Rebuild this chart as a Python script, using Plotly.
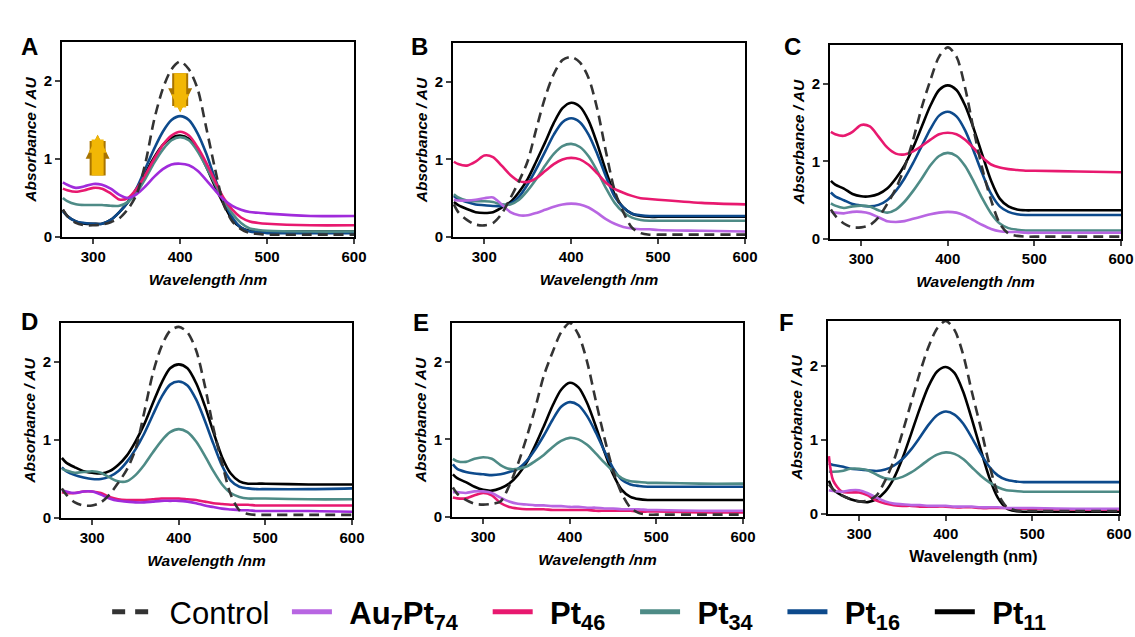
import plotly.graph_objects as go

WL = [265, 270, 280, 290, 300, 310, 320, 330, 340, 350, 360, 370, 380, 390,
      400, 410, 420, 430, 440, 450, 460, 470, 480, 490, 500, 550, 600]

A_CONTROL = [0.35, 0.27, 0.18, 0.15, 0.15, 0.16, 0.19, 0.24, 0.36, 0.55, 0.95, 1.50, 1.90, 2.15, 2.25, 2.15, 1.90, 1.40, 0.88, 0.42, 0.20, 0.10, 0.05, 0.04, 0.03, 0.03, 0.03]
A_AU7PT74 = [0.70, 0.67, 0.63, 0.65, 0.68, 0.67, 0.62, 0.54, 0.50, 0.55, 0.65, 0.77, 0.87, 0.93, 0.94, 0.92, 0.85, 0.73, 0.60, 0.48, 0.40, 0.35, 0.32, 0.31, 0.30, 0.27, 0.27]
A_PT46 = [0.62, 0.60, 0.58, 0.60, 0.63, 0.62, 0.56, 0.48, 0.50, 0.62, 0.80, 1.00, 1.18, 1.30, 1.35, 1.30, 1.15, 0.95, 0.72, 0.50, 0.35, 0.25, 0.20, 0.18, 0.17, 0.15, 0.15]
A_PT34 = [0.50, 0.46, 0.42, 0.41, 0.41, 0.41, 0.40, 0.40, 0.45, 0.57, 0.75, 0.95, 1.12, 1.24, 1.28, 1.24, 1.10, 0.90, 0.68, 0.47, 0.30, 0.18, 0.11, 0.09, 0.08, 0.07, 0.07]
A_PT16 = [0.33, 0.27, 0.20, 0.18, 0.17, 0.17, 0.22, 0.32, 0.45, 0.63, 0.88, 1.13, 1.35, 1.50, 1.55, 1.50, 1.33, 1.07, 0.75, 0.47, 0.25, 0.12, 0.07, 0.06, 0.05, 0.05, 0.05]
A_PT11 = [0.35, 0.27, 0.20, 0.17, 0.17, 0.17, 0.22, 0.32, 0.45, 0.62, 0.82, 1.02, 1.18, 1.27, 1.30, 1.26, 1.12, 0.90, 0.65, 0.42, 0.22, 0.12, 0.08, 0.07, 0.07, 0.07, 0.07]

B_CONTROL = [0.42, 0.32, 0.22, 0.16, 0.15, 0.18, 0.30, 0.50, 0.72, 0.98, 1.40, 1.80, 2.10, 2.28, 2.32, 2.25, 2.05, 1.65, 1.10, 0.60, 0.32, 0.12, 0.05, 0.03, 0.03, 0.03, 0.03]
B_AU7PT74 = [0.48, 0.47, 0.47, 0.48, 0.50, 0.51, 0.42, 0.32, 0.28, 0.28, 0.31, 0.35, 0.39, 0.42, 0.43, 0.42, 0.38, 0.31, 0.23, 0.17, 0.13, 0.11, 0.10, 0.10, 0.09, 0.08, 0.07]
B_PT46 = [0.97, 0.94, 0.92, 0.97, 1.05, 1.03, 0.92, 0.80, 0.72, 0.71, 0.76, 0.85, 0.94, 1.00, 1.02, 1.00, 0.93, 0.82, 0.70, 0.62, 0.57, 0.53, 0.50, 0.49, 0.48, 0.44, 0.42]
B_PT34 = [0.55, 0.51, 0.47, 0.46, 0.46, 0.45, 0.42, 0.42, 0.48, 0.60, 0.75, 0.92, 1.07, 1.17, 1.20, 1.16, 1.04, 0.85, 0.63, 0.44, 0.32, 0.25, 0.22, 0.21, 0.21, 0.21, 0.21]
B_PT16 = [0.53, 0.49, 0.45, 0.42, 0.41, 0.40, 0.40, 0.43, 0.52, 0.68, 0.88, 1.10, 1.32, 1.48, 1.53, 1.48, 1.32, 1.07, 0.78, 0.52, 0.38, 0.30, 0.28, 0.27, 0.27, 0.27, 0.27]
B_PT11 = [0.45, 0.41, 0.36, 0.32, 0.31, 0.32, 0.38, 0.45, 0.58, 0.75, 0.98, 1.22, 1.47, 1.66, 1.73, 1.68, 1.50, 1.20, 0.85, 0.55, 0.38, 0.30, 0.27, 0.26, 0.26, 0.26, 0.26]

C_CONTROL = [0.38, 0.30, 0.20, 0.15, 0.15, 0.18, 0.28, 0.45, 0.65, 0.92, 1.28, 1.70, 2.05, 2.35, 2.47, 2.35, 1.95, 1.40, 0.90, 0.50, 0.20, 0.07, 0.04, 0.03, 0.03, 0.03, 0.03]
C_AU7PT74 = [0.35, 0.34, 0.33, 0.35, 0.35, 0.33, 0.28, 0.23, 0.22, 0.23, 0.26, 0.29, 0.32, 0.34, 0.35, 0.34, 0.30, 0.24, 0.18, 0.13, 0.10, 0.09, 0.09, 0.08, 0.08, 0.08, 0.08]
C_PT46 = [1.38, 1.35, 1.33, 1.38, 1.47, 1.45, 1.32, 1.18, 1.10, 1.09, 1.13, 1.20, 1.28, 1.35, 1.37, 1.35, 1.28, 1.17, 1.05, 0.96, 0.92, 0.90, 0.89, 0.88, 0.88, 0.87, 0.86]
C_PT34 = [0.46, 0.43, 0.40, 0.42, 0.43, 0.42, 0.37, 0.34, 0.38, 0.48, 0.62, 0.78, 0.95, 1.07, 1.11, 1.07, 0.94, 0.74, 0.52, 0.33, 0.20, 0.14, 0.12, 0.11, 0.11, 0.11, 0.11]
C_PT16 = [0.60, 0.55, 0.50, 0.45, 0.43, 0.42, 0.44, 0.50, 0.62, 0.78, 0.98, 1.20, 1.42, 1.59, 1.64, 1.58, 1.40, 1.13, 0.84, 0.58, 0.42, 0.35, 0.32, 0.31, 0.31, 0.31, 0.31]
C_PT11 = [0.75, 0.70, 0.65, 0.58, 0.55, 0.55, 0.58, 0.65, 0.78, 0.95, 1.18, 1.45, 1.72, 1.92, 1.98, 1.92, 1.72, 1.42, 1.08, 0.75, 0.52, 0.42, 0.38, 0.37, 0.37, 0.37, 0.37]

D_CONTROL = [0.38, 0.30, 0.20, 0.16, 0.16, 0.20, 0.30, 0.45, 0.62, 0.88, 1.35, 1.85, 2.20, 2.40, 2.45, 2.38, 2.15, 1.70, 1.15, 0.70, 0.30, 0.10, 0.05, 0.04, 0.04, 0.04, 0.04]
D_AU7PT74 = [0.36, 0.34, 0.32, 0.34, 0.34, 0.30, 0.25, 0.22, 0.21, 0.20, 0.20, 0.21, 0.22, 0.22, 0.22, 0.21, 0.19, 0.16, 0.14, 0.12, 0.11, 0.10, 0.10, 0.09, 0.09, 0.09, 0.08]
D_PT46 = [0.33, 0.32, 0.32, 0.34, 0.34, 0.32, 0.27, 0.24, 0.23, 0.23, 0.23, 0.24, 0.25, 0.25, 0.25, 0.24, 0.23, 0.21, 0.19, 0.18, 0.17, 0.17, 0.17, 0.16, 0.16, 0.16, 0.16]
D_PT34 = [0.63, 0.61, 0.58, 0.59, 0.60, 0.58, 0.52, 0.47, 0.47, 0.55, 0.68, 0.84, 0.99, 1.10, 1.14, 1.10, 0.98, 0.80, 0.60, 0.43, 0.32, 0.27, 0.25, 0.25, 0.25, 0.24, 0.24]
D_PT16 = [0.65, 0.60, 0.55, 0.52, 0.50, 0.50, 0.53, 0.60, 0.72, 0.88, 1.08, 1.32, 1.55, 1.71, 1.75, 1.70, 1.52, 1.25, 0.95, 0.67, 0.48, 0.40, 0.38, 0.37, 0.37, 0.37, 0.38]
D_PT11 = [0.77, 0.71, 0.65, 0.60, 0.58, 0.57, 0.60, 0.68, 0.80, 0.98, 1.20, 1.47, 1.73, 1.92, 1.97, 1.92, 1.73, 1.44, 1.10, 0.78, 0.57, 0.47, 0.44, 0.44, 0.44, 0.43, 0.43]

E_CONTROL = [0.38, 0.30, 0.22, 0.17, 0.16, 0.17, 0.20, 0.40, 0.68, 1.02, 1.40, 1.82, 2.12, 2.38, 2.50, 2.35, 2.00, 1.50, 1.02, 0.60, 0.30, 0.12, 0.05, 0.03, 0.03, 0.03, 0.03]
E_AU7PT74 = [0.32, 0.32, 0.31, 0.33, 0.33, 0.31, 0.25, 0.20, 0.17, 0.16, 0.15, 0.15, 0.14, 0.14, 0.13, 0.13, 0.12, 0.12, 0.11, 0.11, 0.10, 0.10, 0.10, 0.09, 0.09, 0.08, 0.08]
E_PT46 = [0.25, 0.24, 0.24, 0.28, 0.31, 0.28, 0.18, 0.13, 0.11, 0.10, 0.10, 0.10, 0.09, 0.09, 0.09, 0.09, 0.09, 0.08, 0.08, 0.08, 0.08, 0.08, 0.07, 0.07, 0.07, 0.06, 0.06]
E_PT34 = [0.75, 0.72, 0.71, 0.75, 0.77, 0.75, 0.67, 0.62, 0.62, 0.65, 0.72, 0.80, 0.90, 0.98, 1.02, 1.00, 0.93, 0.82, 0.70, 0.59, 0.50, 0.46, 0.45, 0.44, 0.44, 0.43, 0.43]
E_PT16 = [0.68, 0.62, 0.58, 0.56, 0.55, 0.54, 0.55, 0.58, 0.62, 0.72, 0.87, 1.05, 1.25, 1.42, 1.48, 1.44, 1.30, 1.09, 0.85, 0.63, 0.48, 0.42, 0.40, 0.39, 0.39, 0.39, 0.39]
E_PT11 = [0.55, 0.50, 0.45, 0.39, 0.35, 0.34, 0.37, 0.43, 0.54, 0.70, 0.92, 1.17, 1.43, 1.64, 1.73, 1.67, 1.47, 1.17, 0.84, 0.55, 0.35, 0.26, 0.23, 0.22, 0.22, 0.22, 0.22]

F_CONTROL = [0.40, 0.33, 0.25, 0.20, 0.17, 0.18, 0.25, 0.45, 0.72, 1.10, 1.50, 1.90, 2.25, 2.50, 2.60, 2.48, 2.15, 1.65, 1.18, 0.68, 0.28, 0.10, 0.05, 0.04, 0.04, 0.04, 0.04]
F_AU7PT74 = [0.32, 0.31, 0.30, 0.32, 0.32, 0.28, 0.22, 0.17, 0.14, 0.13, 0.12, 0.12, 0.11, 0.11, 0.11, 0.10, 0.10, 0.10, 0.09, 0.09, 0.09, 0.08, 0.08, 0.08, 0.08, 0.07, 0.07]
F_PT46 = [0.78, 0.45, 0.30, 0.29, 0.29, 0.25, 0.18, 0.14, 0.12, 0.11, 0.11, 0.10, 0.10, 0.10, 0.10, 0.09, 0.09, 0.09, 0.08, 0.08, 0.08, 0.08, 0.07, 0.07, 0.07, 0.06, 0.06]
F_PT34 = [0.57, 0.57, 0.58, 0.61, 0.61, 0.59, 0.53, 0.48, 0.47, 0.50, 0.56, 0.64, 0.73, 0.80, 0.83, 0.81, 0.74, 0.63, 0.52, 0.43, 0.36, 0.32, 0.31, 0.30, 0.30, 0.30, 0.30]
F_PT16 = [0.68, 0.66, 0.64, 0.61, 0.60, 0.59, 0.58, 0.60, 0.65, 0.74, 0.87, 1.03, 1.20, 1.33, 1.38, 1.34, 1.22, 1.03, 0.82, 0.64, 0.52, 0.46, 0.44, 0.43, 0.43, 0.43, 0.43]
F_PT11 = [0.45, 0.33, 0.25, 0.20, 0.17, 0.16, 0.20, 0.30, 0.48, 0.75, 1.08, 1.42, 1.72, 1.92, 1.98, 1.90, 1.65, 1.28, 0.88, 0.50, 0.22, 0.08, 0.04, 0.03, 0.03, 0.03, 0.03]

SERIES_NAMES = ["Control", "<b>Au<sub>7</sub>Pt<sub>74</sub></b>", "<b>Pt<sub>46</sub></b>",
                "<b>Pt<sub>34</sub></b>", "<b>Pt<sub>16</sub></b>", "<b>Pt<sub>11</sub></b>"]
PANEL_LABELS = ["A", "B", "C", "D", "E", "F"]
X_TICKS = [300, 400, 500, 600]
Y_TICKS = [0, 1, 2]

PANELS = {
    "A": [A_CONTROL, A_AU7PT74, A_PT46, A_PT34, A_PT16, A_PT11],
    "B": [B_CONTROL, B_AU7PT74, B_PT46, B_PT34, B_PT16, B_PT11],
    "C": [C_CONTROL, C_AU7PT74, C_PT46, C_PT34, C_PT16, C_PT11],
    "D": [D_CONTROL, D_AU7PT74, D_PT46, D_PT34, D_PT16, D_PT11],
    "E": [E_CONTROL, E_AU7PT74, E_PT46, E_PT34, E_PT16, E_PT11],
    "F": [F_CONTROL, F_AU7PT74, F_PT46, F_PT34, F_PT16, F_PT11],
}

# gold arrows in panel A: (x, head y, tail y)
ARROWS = [(305, 1.31, 0.77), (400, 1.60, 2.12)]

W, H = 1135, 637
# pixel boxes of the plot areas: (left, right, top, bottom)
BOXES = {
    "A": (62, 354, 42, 237), "B": (453, 745, 43, 237), "C": (830, 1121, 45, 239),
    "D": (61, 352, 323, 518), "E": (452, 743, 323, 517), "F": (828, 1119, 321, 514),
}
YMAX = {"A": 2.5, "B": 2.5, "C": 2.5, "D": 2.5, "E": 2.5, "F": 2.6}
LETTER_POS = {"A": (19, 31), "B": (419, 31), "C": (803, 31),
              "D": (19, 321), "E": (421, 322), "F": (796, 322)}

PURPLE_DARK = "#A02BDB"
LAVENDER = "#B866E2"
PINK = "#E8196F"
TEAL = "#4E8B86"
NAVY = "#0D4A8C"
BLACK = "#000000"
CTRL = "#333333"


def colors_for(p):
    purple = PURPLE_DARK if p in ("A", "D") else LAVENDER
    return [CTRL, purple, PINK, TEAL, NAVY, BLACK]


fig = go.Figure()
font_fam = "Liberation Sans, Arial, sans-serif"

draw_order = [5, 4, 3, 2, 1, 0]
for i, p in enumerate(PANEL_LABELS):
    k = "" if i == 0 else str(i + 1)
    cols = colors_for(p)
    for s in draw_order:
        fig.add_trace(go.Scatter(
            x=WL, y=PANELS[p][s], mode="lines",
            line=dict(color=cols[s], width=2.6,
                      dash="10px,6px" if s == 0 else "solid",
                      shape="spline", smoothing=0.8),
            xaxis="x" + k, yaxis="y" + k, showlegend=False, hoverinfo="skip"))
    l, r, t, b = BOXES[p]
    italic_title = p != "F"
    fig.layout["xaxis" + k] = dict(
        domain=[l / W, r / W], range=[264, 600], anchor="y" + k,
        tickvals=X_TICKS, ticks="outside", ticklen=5, tickwidth=1.6,
        showline=True, linewidth=1.8, linecolor="black", mirror=True,
        showgrid=False, zeroline=False,
        tickfont=dict(family=font_fam, size=15, color="black", weight="bold"),
        title=dict(text="Wavelength /nm" if italic_title else "Wavelength (nm)",
                   standoff=10,
                   font=dict(family=font_fam, size=15.5 if italic_title else 16,
                             color="black", weight="bold",
                             style="italic" if italic_title else "normal")))
    fig.layout["yaxis" + k] = dict(
        domain=[1 - b / H, 1 - t / H], range=[0, YMAX[p]], anchor="x" + k,
        tickvals=Y_TICKS, ticks="outside", ticklen=5, tickwidth=1.6,
        showline=True, linewidth=1.8, linecolor="black", mirror=True,
        showgrid=False, zeroline=False,
        tickfont=dict(family=font_fam, size=15, color="black", weight="bold"),
        title=dict(text="Absorbance / AU", standoff=3,
                   font=dict(family=font_fam, size=15.5, color="black",
                             weight="bold", style="italic")))
    lx, ly = LETTER_POS[p]
    fig.add_annotation(x=lx / W, y=1 - ly / H, xref="paper", yref="paper",
                       text="<b>%s</b>" % p, showarrow=False,
                       font=dict(family=font_fam, size=24, color="black"))

# legend-only entries (thin spaces pad the entries like the reference)
leg_cols = colors_for("B")
TS = "\u2009"
PAD_BEFORE = [2, 2, 2, 2, 2, 2]
PAD_AFTER = [2, 4, 4, 4, 4, 2]
for s in range(6):
    fig.add_trace(go.Scatter(
        x=[None], y=[None], mode="lines",
        name=TS * PAD_BEFORE[s] + SERIES_NAMES[s] + TS * PAD_AFTER[s],
        line=dict(color=leg_cols[s], width=5,
                  dash="13px,10px" if s == 0 else "solid"),
        showlegend=True, hoverinfo="skip"))

for (ax_x, head_y, tail_y) in ARROWS:
    for colr, wdt in (("#A87400", 16), ("#F2B705", 12)):
        fig.add_annotation(x=ax_x, y=head_y, ax=ax_x, ay=tail_y, xref="x", yref="y",
                           axref="x", ayref="y", text="", showarrow=True,
                           arrowhead=2, arrowsize=0.3,
                           arrowwidth=wdt, arrowcolor=colr, standoff=0,
                           startstandoff=0)

fig.update_layout(
    width=W, height=H, margin=dict(l=0, r=0, t=0, b=0, autoexpand=False),
    paper_bgcolor="white", plot_bgcolor="white",
    showlegend=True,
    legend=dict(orientation="h", x=0.516, xanchor="center", y=1 - 612 / H,
                yanchor="middle", font=dict(family=font_fam, size=31, color="black"),
                itemwidth=40, bgcolor="rgba(0,0,0,0)", tracegroupgap=0),
)

fig.write_html("out.html")
